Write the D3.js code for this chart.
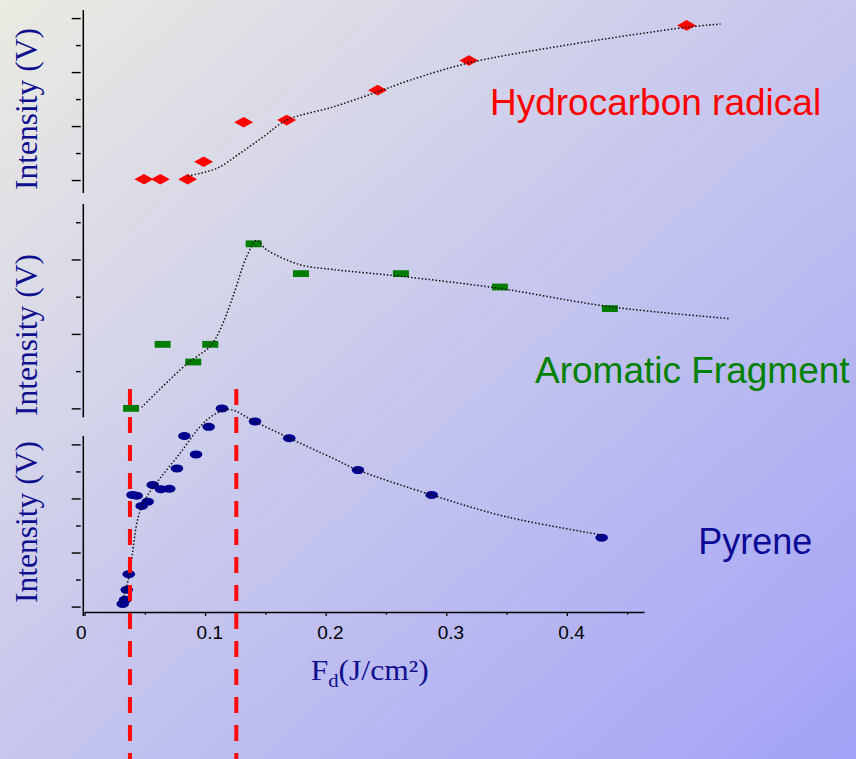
<!DOCTYPE html>
<html>
<head>
<meta charset="utf-8">
<script src="https://cdn.jsdelivr.net/npm/d3@7"></script>
<style>
  html, body { margin: 0; padding: 0; background: #c8c8ee; }
  svg { display: block; }
</style>
</head>
<body>
<svg id="chart" width="856" height="759"></svg>
<script>
// Fluence values (J/cm²) and signal intensities for the three species
const hcFluence   = [0.0493, 0.0629, 0.0856, 0.0988, 0.132, 0.1677, 0.2431, 0.3188, 0.4993];
const hcIntensity = [0.03, 0.03, 0.03, 0.68, 2.14, 2.22, 3.33, 4.43, 5.73];
const hcFitFluence   = [0.0856, 0.1096, 0.1289, 0.1483, 0.1677, 0.2063, 0.2431, 0.27, 0.3188, 0.3998, 0.4993, 0.5275];
const hcFitIntensity = [0.15, 0.43, 0.99, 1.6, 2.22, 2.71, 3.27, 3.7, 4.34, 5.0, 5.66, 5.78];

const arFluence   = [0.0386, 0.0648, 0.0902, 0.1043, 0.1403, 0.1795, 0.2624, 0.3445, 0.4357];
const arIntensity = [0.0, 1.72, 1.245, 1.72, 4.42, 3.62, 3.62, 3.26, 2.68];
const arFitFluence   = [0.0474, 0.0847, 0.1043, 0.1124, 0.1231, 0.1345, 0.1428, 0.1511, 0.1787, 0.2061, 0.2616, 0.3445, 0.4357, 0.5352];
const arFitIntensity = [0.03, 1.19, 1.67, 2.11, 3.0, 4.08, 4.51, 4.26, 3.86, 3.73, 3.55, 3.22, 2.73, 2.41];

const pyFluence   = [0.0317, 0.0336, 0.035, 0.0367, 0.0398, 0.0433, 0.0474, 0.0524, 0.0566, 0.0634, 0.0703,
                     0.0767, 0.0828, 0.0925, 0.103, 0.114, 0.1414, 0.1698, 0.2268, 0.2879, 0.4289];
const pyIntensity = [0.1, 0.25, 0.62, 1.2, 4.13, 4.1, 3.72, 3.88, 4.5, 4.34, 4.36,
                     5.11, 6.31, 5.63, 6.65, 7.33, 6.85, 6.23, 5.05, 4.13, 2.55];
const pyFitFluence   = [0.0308, 0.0363, 0.0391, 0.0405, 0.0446, 0.0516, 0.0626, 0.0792, 0.0958, 0.1068, 0.1206,
                        0.14, 0.1704, 0.2063, 0.2268, 0.2879, 0.3501, 0.4289];
const pyFitIntensity = [0.13, 0.99, 1.73, 2.22, 3.32, 4.06, 4.74, 5.67, 6.65, 7.08, 7.29,
                        6.87, 6.22, 5.48, 5.05, 4.13, 3.32, 2.65];

// Threshold fluences marked by the dashed guides
const thresholds = [0.0377, 0.1259];

// Axis ticks
const xMajorTicks = [0, 0.1, 0.2, 0.3, 0.4];
const xMinorTicks = [0.05, 0.15, 0.25, 0.35, 0.45];
const hcTicks = [0, 1, 2, 3, 4, 5, 6];
const arTicks = [0, 1, 2, 3, 4, 5];
const pyTicks = [0, 1, 2, 3, 4, 5, 6];

const svg = d3.select("#chart");
const W = 856, H = 759;

// Background wash
const defs = svg.append("defs");
const grad = defs.append("linearGradient").attr("id", "bg")
  .attr("x1", 0).attr("y1", 0).attr("x2", 1).attr("y2", 1);
grad.append("stop").attr("offset", 0).attr("stop-color", "#ebebe2");
grad.append("stop").attr("offset", 0.5).attr("stop-color", "#c6c6ee");
grad.append("stop").attr("offset", 1).attr("stop-color", "#a2a2f7");
svg.append("rect").attr("width", W).attr("height", H).attr("fill", "url(#bg)");

// Shared fluence scale
const x = d3.scaleLinear().domain([0, 0.464]).range([84.5, 644]);
const axisX = 83.3;

// Panel intensity scales
const yHc = d3.scaleLinear().domain([-0.48, 6.3]).range([193, 10]);
const yAr = d3.scaleLinear().domain([-0.24, 5.49]).range([417.3, 204]);
const yPy = d3.scaleLinear().domain([-0.2, 6.31]).range([612, 436]);

const ink = "#000";
const labelBlue = "#10108f";

function drawYAxis(y, ticks, extraBottom) {
  const g = svg.append("g");
  const major = ticks.filter(t => t % 2 === 0);
  const minor = ticks.filter(t => t % 2 !== 0);
  const gMaj = g.append("g").attr("transform", `translate(${axisX - 2.6},0)`)
    .call(d3.axisLeft(y).tickValues(major).tickSize(9).tickFormat(""));
  const gMin = g.append("g").attr("transform", `translate(${axisX - 2.6},0)`)
    .call(d3.axisLeft(y).tickValues(minor).tickSize(4.7).tickFormat(""));
  [gMaj, gMin].forEach(a => {
    a.select(".domain").remove();
    a.selectAll("line").attr("stroke", ink).attr("stroke-width", 1.4);
  });
  const [y0, y1] = y.range();
  g.append("line").attr("x1", axisX).attr("x2", axisX)
    .attr("y1", y0 + (extraBottom || 0)).attr("y2", y1)
    .attr("stroke", ink).attr("stroke-width", 1.5);
}

drawYAxis(yHc, hcTicks, 0);
drawYAxis(yAr, arTicks, 0);
drawYAxis(yPy, pyTicks, 4);

// Fluence axis
const gx = svg.append("g").attr("transform", "translate(0,612)")
  .call(d3.axisBottom(x).tickValues(xMajorTicks).tickSize(4).tickSizeOuter(0)
    .tickFormat(d3.format("")));
gx.select(".domain").attr("stroke", ink).attr("stroke-width", 1.5);
gx.selectAll("line").attr("stroke", ink).attr("stroke-width", 1.3);
gx.selectAll("text")
  .attr("y", 27.3).attr("dy", null).attr("x", -9)
  .attr("text-anchor", "start")
  .attr("fill", ink)
  .style("font-family", "'Liberation Sans', Arial, sans-serif")
  .style("font-size", "19px");
const gxm = svg.append("g").attr("transform", "translate(0,612)")
  .call(d3.axisBottom(x).tickValues(xMinorTicks).tickSize(2.7).tickFormat(""));
gxm.select(".domain").remove();
gxm.selectAll("line").attr("stroke", ink).attr("stroke-width", 1.3);

// Markers
function zip(a, b) { return a.map((v, i) => [v, b[i]]); }

svg.append("g").selectAll("path")
  .data(zip(hcFluence, hcIntensity)).join("path")
  .attr("d", d => {
    const cx = x(d[0]), cy = yHc(d[1]);
    return `M${cx - 9.5},${cy}L${cx},${cy - 5.3}L${cx + 9.5},${cy}L${cx},${cy + 5.3}Z`;
  })
  .attr("fill", "#ff0000");

svg.append("g").selectAll("rect")
  .data(zip(arFluence, arIntensity)).join("rect")
  .attr("x", d => x(d[0]) - 8).attr("y", d => yAr(d[1]) - 3.4)
  .attr("width", 16).attr("height", 6.8)
  .attr("fill", "#007d00");

svg.append("g").selectAll("ellipse")
  .data(zip(pyFluence, pyIntensity)).join("ellipse")
  .attr("cx", d => x(d[0])).attr("cy", d => yPy(d[1]))
  .attr("rx", 6.3).attr("ry", 4)
  .attr("fill", "#00008f");

// Dotted guide curves through each data set
function drawFit(xs, ys, y) {
  const line = d3.line().x(d => x(d[0])).y(d => y(d[1])).curve(d3.curveCatmullRom.alpha(0.5));
  svg.append("path").datum(zip(xs, ys))
    .attr("d", line).attr("fill", "none")
    .attr("stroke", "#111").attr("stroke-width", 1.5)
    .attr("stroke-dasharray", "1.5,2");
}
drawFit(hcFitFluence, hcFitIntensity, yHc);
drawFit(arFitFluence, arFitIntensity, yAr);
drawFit(pyFitFluence, pyFitIntensity, yPy);

// Threshold guides
svg.append("g").selectAll("line")
  .data(thresholds).join("line")
  .attr("x1", d => x(d)).attr("x2", d => x(d))
  .attr("y1", 389).attr("y2", H)
  .attr("stroke", "#ff0a0a").attr("stroke-width", 4)
  .attr("stroke-dasharray", "16,12");

// Axis titles
const serif = "'Liberation Serif', 'Times New Roman', serif";
const sans = "'Liberation Sans', Arial, sans-serif";
[109, 335, 522].forEach(cy => {
  svg.append("text")
    .attr("transform", `translate(37,${cy}) rotate(-90)`)
    .attr("text-anchor", "middle")
    .attr("fill", labelBlue)
    .style("font-family", serif).style("font-size", "31.5px")
    .text("Intensity (V)");
});

const xt = svg.append("g");
const xTitle = xt.append("text")
  .attr("fill", labelBlue)
  .style("font-family", serif).style("font-size", "29px");
xTitle.append("tspan").text("F");
xTitle.append("tspan").attr("dy", 7).style("font-size", "19px").text("d");
xTitle.append("tspan").attr("dy", -7).text("(J/cm²)");
const xtw = xTitle.node().getComputedTextLength();
xt.attr("transform", `translate(310.7,680) scale(${118 / xtw},1)`);

// Series names
svg.append("text").attr("x", 490).attr("y", 115)
  .attr("fill", "#ff0000")
  .style("font-family", sans).style("font-size", "37px")
  .text("Hydrocarbon radical");
svg.append("text").attr("x", 535).attr("y", 383.3)
  .attr("fill", "#008000")
  .style("font-family", sans).style("font-size", "37px")
  .text("Aromatic Fragment");
svg.append("text").attr("x", 698.3).attr("y", 554)
  .attr("fill", "#0b0b96")
  .style("font-family", sans).style("font-size", "36px")
  .text("Pyrene");
</script>
</body>
</html>
